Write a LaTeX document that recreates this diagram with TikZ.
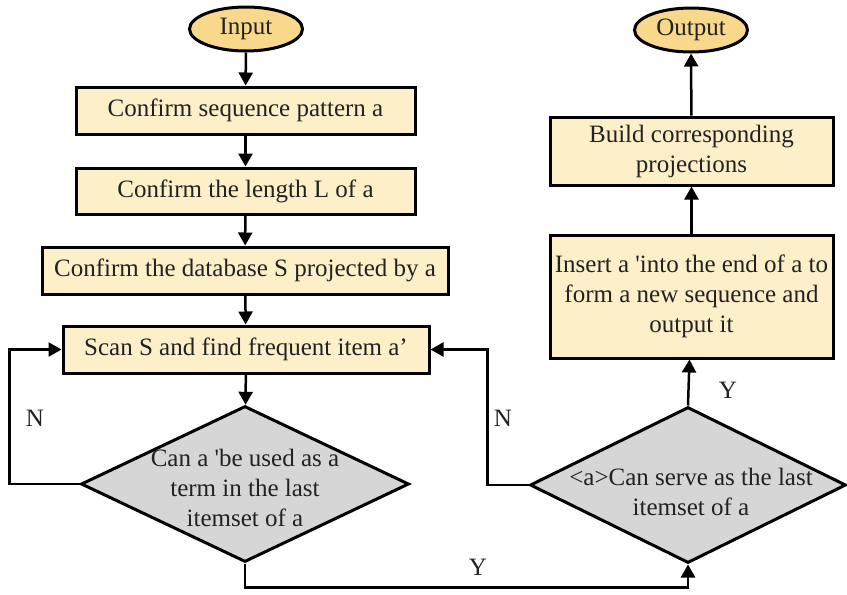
\documentclass[tikz,border=0pt]{standalone}
\usepackage{fontspec}
\setmainfont{Liberation Serif}
\usetikzlibrary{shapes.geometric,arrows.meta}
\definecolor{termfill}{HTML}{F8D98B}
\definecolor{boxfill}{HTML}{FDF0C8}
\definecolor{decfill}{HTML}{D6D6D6}
\definecolor{ink}{HTML}{222222}
\begin{document}
\begin{tikzpicture}[x=1pt,y=-1pt,
    every node/.style={font=\fontsize{25}{30}\selectfont,text=ink},
    term/.style={ellipse,draw,line width=3pt,fill=termfill,minimum width=113pt,minimum height=44pt,inner sep=0pt},
    procbox/.style={rectangle,draw,line width=3pt,fill=boxfill,align=center,inner sep=0pt},
    decide/.style={diamond,draw,line width=3pt,fill=decfill,inner sep=0pt},
    arr/.style={line width=2.5pt,-{Triangle[length=13pt,width=14pt]}}]
    \useasboundingbox (0,0) rectangle (847,595);

    \node[term] (input) at (246,29) {Input};
    \node[procbox,minimum width=339pt,minimum height=47pt] (conf1) at (245.5,110.5) {Confirm sequence pattern a};
    \node[procbox,minimum width=339pt,minimum height=46pt] (conf2) at (245.5,191) {Confirm the length L of a};
    \node[procbox,minimum width=406pt,minimum height=47pt] (conf3) at (245,270.5) {Confirm the database S projected by a};
    \node[procbox,minimum width=366pt,minimum height=47pt] (scan) at (246,349.5) {Scan S and find frequent item a’};

    \node[decide,minimum width=328pt,minimum height=156pt] (dec1) at (245,484) {};
    \node[align=center,inner sep=0pt] (dec1txt) at (245,488) {Can a \textquotesingle be used as a\\term in the last\\itemset of a};
    \node[decide,minimum width=316pt,minimum height=156pt] (dec2) at (688,485) {};
    \node[align=center,inner sep=0pt] (dec2txt) at (691,492) {<a>Can serve as the last\\itemset of a};

    \node[procbox,minimum width=283pt,minimum height=123pt] (insert) at (691.5,296.5) {Insert a \textquotesingle into the end of a to\\form a new sequence and\\output it};
    \node[procbox,minimum width=283pt,minimum height=68pt] (build) at (691.5,151) {Build corresponding\\projections};
    \node[term] (output) at (691,30) {Output};

    \draw[arr] (input) -- (conf1);
    \draw[arr] (conf1) -- (conf2);
    \draw[arr] (conf2) -- (conf3);
    \draw[arr] (conf3) -- (scan);
    \draw[arr] (scan) -- (dec1);
    \draw[arr] (dec1.west) -- ++(-70,0) |- (scan.west);
    \draw[arr] (dec1.south) -- ++(0,24) -| (dec2.south);
    \draw[arr] (dec2.west) -- ++(-41,0) |- (scan.east);
    \draw[arr] (dec2.north) -- (insert);
    \draw[arr] (insert) -- (build);
    \draw[arr] (build) -- (output);

    \node (nleft) at (35,418) {N};
    \node (nright) at (503,418) {N};
    \node (ybottom) at (478,567) {Y};
    \node (yright) at (728,390) {Y};
\end{tikzpicture}
\end{document}
